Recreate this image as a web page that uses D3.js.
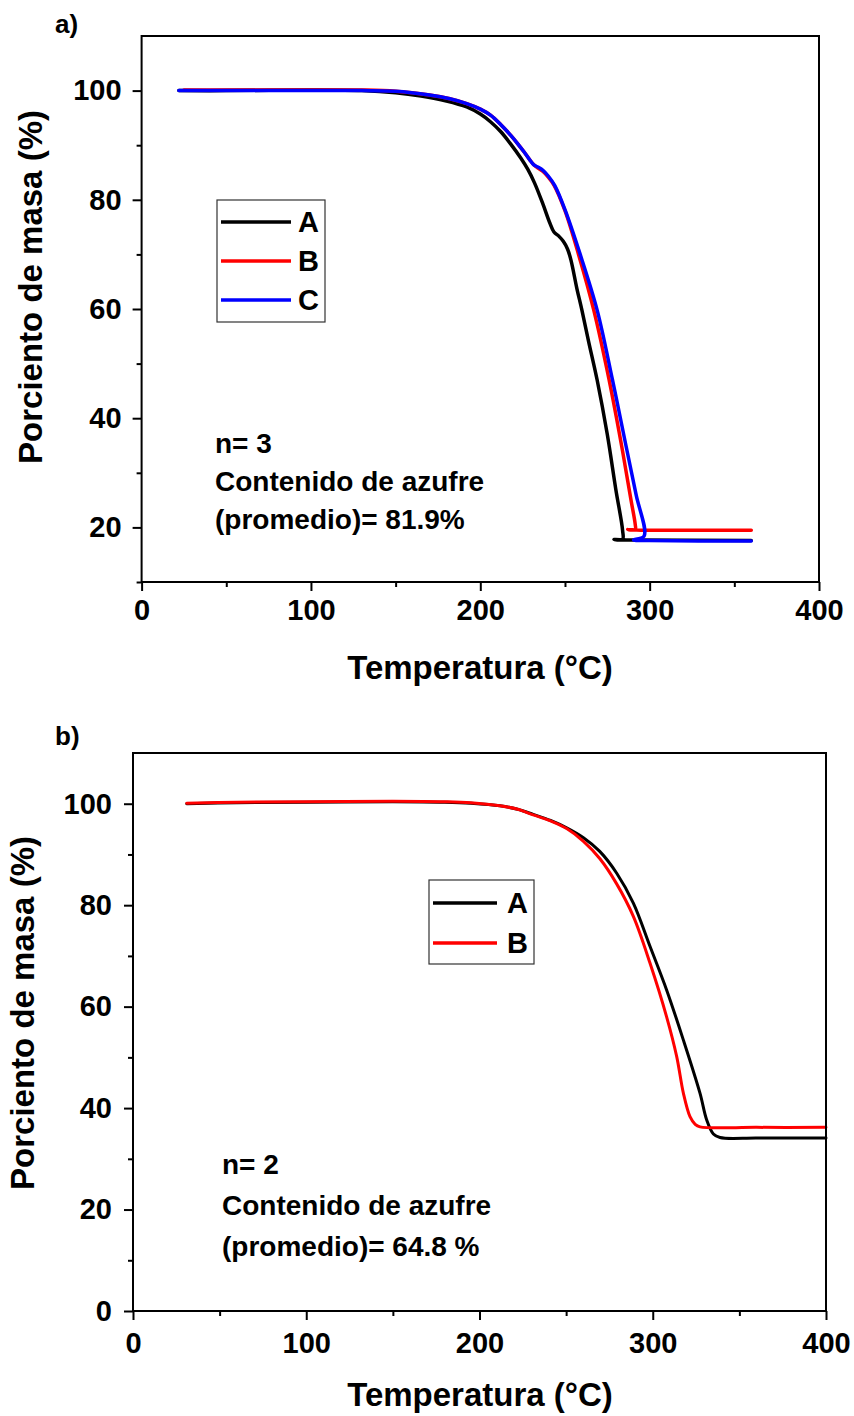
<!DOCTYPE html>
<html>
<head>
<meta charset="utf-8">
<script src="https://cdn.jsdelivr.net/npm/d3@7"></script>
<style>
  html, body { margin: 0; padding: 0; background: #fff; }
  svg text { font-family: "Liberation Sans", Arial, Helvetica, sans-serif; font-weight: bold; fill: #000; }
</style>
</head>
<body>
<svg id="chart" width="854" height="1416"></svg>
<script>
// ---------- data ----------
const xTicks = [0, 100, 200, 300, 400];
const xMinorTicks = [50, 150, 250, 350];
const yTicksA = [20, 40, 60, 80, 100];
const yMinorTicksA = [10, 30, 50, 70, 90];
const yTicksB = [0, 20, 40, 60, 80, 100];
const yMinorTicksB = [10, 30, 50, 70, 90];

// panel a) : [temperature °C, mass %]
const panelA_A = [[22,100],[50,100],[100,100.1],[130,100],[150,99.6],[165,99],[180,98.1],[192,97],[200,95.7],[206,94.3],[212,92.5],[218,90.2],[224,87.6],[228,85.6],[232,83.1],[237,79.2],[241,75.8],[243.5,74.1],[246.5,73.3],[249,72.4],[251.5,71],[253.5,69],[257,63.8],[260,59.8],[264,54],[269,47],[275,37],[280,27],[284,19.5],[284,17.8],[279,17.8],[290,17.7],[360,17.6]];
const panelA_B = [[25,100.1],[50,100.1],[100,100.1],[130,100.1],[150,99.9],[170,99.2],[182,98.5],[192,97.6],[200,96.6],[206,95.5],[212,93.8],[218,91.8],[222,90.3],[226,88.7],[229,87.4],[231.6,86.4],[234,85.8],[237,85.2],[240,84.2],[243.5,82.7],[250,78],[258,70],[267,59.8],[276,47.1],[284,34],[289,25],[291.5,20.5],[291.5,19.6],[287,19.6],[295,19.5],[360,19.5]];
const panelA_C = [[22,100],[50,100],[100,100],[130,100],[150,99.9],[170,99.2],[182,98.5],[192,97.6],[200,96.6],[206,95.5],[212,93.8],[218,91.8],[222,90.3],[226,88.7],[229,87.4],[231.6,86.4],[234,86],[237,85.4],[240,84.4],[244,82.6],[250,78.2],[259,70],[269,59.8],[278,47.1],[286,35],[292,26],[296.7,18.4],[290.5,17.7],[300,17.6],[360,17.5]];

// panel b)
const panelB_A = [[31,100],[60,100.2],[100,100.3],[150,100.4],[180,100.3],[195,100.1],[211.8,99.6],[222,98.9],[231,97.9],[241,96.7],[250,95.3],[260,93.3],[269.4,90.6],[279.2,86.3],[288.8,80.4],[298.4,71.9],[308,63.3],[317.6,53.5],[327.3,42.9],[331.1,37.7],[335,34.9],[338.8,34.2],[360,34.1],[400,34.1]];
const panelB_B = [[31,100.1],[60,100.3],[100,100.4],[150,100.5],[180,100.4],[195,100.2],[211.8,99.6],[222,98.9],[231,97.8],[241,96.6],[250.3,95.1],[260,92.6],[269.4,89.2],[279,84.3],[288.8,77.8],[298.4,68.6],[308,58],[313.8,50.2],[317.7,42.9],[321.5,38.3],[324.5,36.8],[327.3,36.3],[360,36.2],[400,36.2]];

const seriesNamesA = ["A", "B", "C"];
const seriesNamesB = ["A", "B"];
const colors = { A: "#000000", B: "#ff0000", C: "#0000ff" };
const notesA = ["n= 3", "Contenido de azufre", "(promedio)= 81.9%"];
const notesB = ["n= 2", "Contenido de azufre", "(promedio)= 64.8 %"];
const xTitle = "Temperatura (°C)";
const yTitle = "Porciento de masa (%)";

// ---------- drawing ----------
const svg = d3.select("#chart");

function drawPanel(cfg) {
  const g = svg.append("g");
  const x = d3.scaleLinear().domain([0, 400]).range([cfg.left, cfg.right]);
  const y = d3.scaleLinear().domain(cfg.yDomain).range([cfg.bottom, cfg.top]);

  const xAx = g.append("g").attr("transform", `translate(0,${cfg.bottom})`)
    .call(d3.axisBottom(x).tickValues(xTicks).tickSize(9).tickPadding(cfg.xPad).tickFormat(d3.format("d")));
  const xMin = g.append("g").attr("transform", `translate(0,${cfg.bottom})`)
    .call(d3.axisBottom(x).tickValues(xMinorTicks).tickSize(5).tickFormat(""));
  const yAx = g.append("g").attr("transform", `translate(${cfg.left},0)`)
    .call(d3.axisLeft(y).tickValues(cfg.yTicks).tickSize(9).tickPadding(cfg.yPad).tickFormat(d3.format("d")));
  const yMin = g.append("g").attr("transform", `translate(${cfg.left},0)`)
    .call(d3.axisLeft(y).tickValues(cfg.yMinor).tickSize(5).tickFormat(""));
  [xAx, xMin, yAx, yMin].forEach(a => {
    a.select(".domain").remove();
    a.selectAll(".tick line").attr("stroke", "#000").attr("stroke-width", 2);
    a.selectAll("text").attr("font-size", 29).attr("font-family", null);
  });

  const line = d3.line().x(d => x(d[0])).y(d => y(d[1])).curve(d3.curveCatmullRom.alpha(0.5));
  cfg.series.forEach(s => {
    g.append("path").datum(s.data)
      .attr("fill", "none").attr("stroke", colors[s.name])
      .attr("stroke-width", cfg.lw).attr("stroke-linejoin", "round").attr("stroke-linecap", "round")
      .attr("d", line);
  });

  g.append("rect").attr("x", cfg.left).attr("y", cfg.top)
    .attr("width", cfg.right - cfg.left).attr("height", cfg.bottom - cfg.top)
    .attr("fill", "none").attr("stroke", "#000").attr("stroke-width", 2);

  const L = cfg.legend;
  g.append("rect").attr("x", L.x).attr("y", L.y).attr("width", L.w).attr("height", L.h)
    .attr("fill", "#fff").attr("stroke", "#333").attr("stroke-width", 1.2);
  cfg.names.forEach((n, i) => {
    const yy = L.y + L.first + i * L.step;
    g.append("line").attr("x1", L.x + 4).attr("x2", L.x + 4 + L.len).attr("y1", yy).attr("y2", yy)
      .attr("stroke", colors[n]).attr("stroke-width", 3.5);
    g.append("text").attr("x", L.tx).attr("y", yy).attr("dy", "0.36em")
      .attr("font-size", 29).text(n);
  });

  cfg.notes.forEach((t, i) => {
    g.append("text").attr("x", cfg.noteX).attr("y", cfg.noteY + i * cfg.noteStep)
      .attr("font-size", 28).text(t);
  });

  g.append("text").attr("x", cfg.xTitleX).attr("y", cfg.xTitleY).attr("text-anchor", "middle")
    .attr("font-size", 33).text(xTitle);
  g.append("text").attr("transform", `translate(${cfg.yTitleX},${cfg.yTitleY}) rotate(-90)`)
    .attr("text-anchor", "middle").attr("font-size", 33).text(yTitle);
  g.append("text").attr("x", 55).attr("y", cfg.tagY).attr("font-size", 26).text(cfg.tag);
}

drawPanel({
  left: 141.6, right: 819, top: 36, bottom: 582, yDomain: [10, 110],
  yTicks: yTicksA, yMinor: yMinorTicksA, xPad: 8, yPad: 11, lw: 3.5,
  series: [{ name: "A", data: panelA_A }, { name: "B", data: panelA_B }, { name: "C", data: panelA_C }],
  names: seriesNamesA,
  legend: { x: 217, y: 200, w: 108, h: 122, first: 22, step: 39, len: 70, tx: 298 },
  notes: notesA, noteX: 215, noteY: 453, noteStep: 38,
  xTitleX: 480, xTitleY: 679, yTitleX: 42, yTitleY: 287,
  tag: "a)", tagY: 33
});

drawPanel({
  left: 133, right: 826, top: 753, bottom: 1311, yDomain: [0, 110],
  yTicks: yTicksB, yMinor: yMinorTicksB, xPad: 12, yPad: 12, lw: 3,
  series: [{ name: "A", data: panelB_A }, { name: "B", data: panelB_B }],
  names: seriesNamesB,
  legend: { x: 429, y: 880, w: 105, h: 84, first: 23, step: 40, len: 64, tx: 507 },
  notes: notesB, noteX: 222, noteY: 1174, noteStep: 41,
  xTitleX: 480, xTitleY: 1406, yTitleX: 34, yTitleY: 1013,
  tag: "b)", tagY: 745
});
</script>
</body>
</html>
